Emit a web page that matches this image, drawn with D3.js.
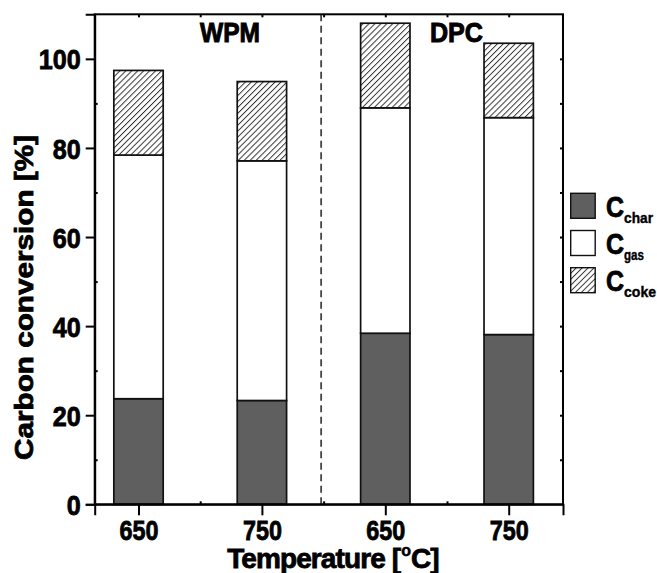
<!DOCTYPE html>
<html><head><meta charset="utf-8">
<script src="https://cdn.jsdelivr.net/npm/d3@7"></script>
<style>
body{margin:0;background:#fff;}
text{font-family:"Liberation Sans",Arial,sans-serif;font-weight:bold;fill:#000;}
</style></head>
<body><svg id="c" width="657" height="573"></svg>
<script>
const categories = ["650","750","650","750"];
const groups = ["WPM","DPC"];
const cChar = [23.7, 23.3, 38.4, 38.1];
const cGas  = [54.7, 53.8, 50.6, 48.7];
const cCoke = [19.0, 17.8, 19.0, 16.7];
const seriesNames = ["char","gas","coke"];
const yTicks = [0,20,40,60,80,100];

const svg = d3.select("#c");
const L=94.7, R=563, T=14.3, B=504.3;
const x = d3.scaleLinear().domain([0.645,4.44]).range([L,R]);
const y = d3.scaleLinear().domain([0,110]).range([B,T]);
const heavy = s => s.attr("stroke","#000").attr("stroke-width",0.8).style("font-family","'Liberation Sans',Arial,sans-serif").style("font-weight","bold").attr("fill","#000");

// hatch pattern
const defs = svg.append("defs");
const pw = 4.2;
const pat = defs.append("pattern").attr("id","hatch").attr("patternUnits","userSpaceOnUse")
  .attr("width",pw).attr("height",pw).attr("patternTransform","rotate(45)");
pat.append("rect").attr("width",pw).attr("height",pw).attr("fill","#fff");
pat.append("line").attr("x1",0.5).attr("y1",0).attr("x2",0.5).attr("y2",pw)
  .attr("stroke","#222").attr("stroke-width",0.9);

const table = categories.map((c,i)=>({idx:i+1, char:cChar[i], gas:cGas[i], coke:cCoke[i]}));
const stack = d3.stack().keys(seriesNames)(table);
const fills = {char:"#5f5f5f", gas:"#ffffff", coke:"url(#hatch)"};
const bw = 0.4;

stack.forEach(s=>{
  svg.append("g").selectAll("rect").data(s).join("rect")
    .attr("x",d=>x(d.data.idx-bw/2))
    .attr("width",d=>x(d.data.idx+bw/2)-x(d.data.idx-bw/2))
    .attr("y",d=>y(d[1]))
    .attr("height",d=>y(d[0])-y(d[1]))
    .attr("fill",fills[s.key])
    .attr("stroke","#111").attr("stroke-width",1.7);
});

// dashed divider
svg.append("line").attr("x1",x(2.48)).attr("x2",x(2.48)).attr("y1",T).attr("y2",B)
  .attr("stroke","#444").attr("stroke-width",1.8).attr("stroke-dasharray","7,4.5");

// axes
const gx = svg.append("g").attr("transform",`translate(0,${B})`)
  .call(d3.axisBottom(x).tickValues([1,2,3,4]).tickFormat((d,i)=>categories[i]).tickSize(11).tickPadding(5));
const gxm = svg.append("g").attr("transform",`translate(0,${B})`)
  .call(d3.axisBottom(x).tickValues([1.5,2.5,3.5]).tickFormat("").tickSize(-3));
const gt = svg.append("g").attr("transform",`translate(0,${T})`)
  .call(d3.axisTop(x).tickValues([1,1.5,2,2.5,3,3.5,4]).tickFormat("").tickSize(-3));
const gy = svg.append("g").attr("transform",`translate(${L},0)`)
  .call(d3.axisLeft(y).tickValues(yTicks).tickSize(9).tickPadding(5));
const gym = svg.append("g").attr("transform",`translate(${L},0)`)
  .call(d3.axisLeft(y).tickValues([10,30,50,70,90]).tickFormat("").tickSize(-3));
const gr = svg.append("g").attr("transform",`translate(${R},0)`)
  .call(d3.axisRight(y).tickValues([10,20,30,40,50,60,70,80,90,100]).tickFormat("").tickSize(-3));
[gx,gxm,gt,gy,gym,gr].forEach(g=>{
  g.select(".domain").attr("stroke","#000").attr("stroke-width",2);
  g.selectAll(".tick line").attr("stroke","#000").attr("stroke-width",2);
});
[gt,gr,gxm,gym].forEach(g=>g.select(".domain").attr("d",null));
svg.append("rect").attr("x",L).attr("y",T).attr("width",R-L).attr("height",B-T)
  .attr("fill","none").attr("stroke","#000").attr("stroke-width",2);

gx.selectAll(".tick text").call(heavy).style("font-size","27.5px")
  .attr("y",null).attr("dy",null).attr("y",35.5).attr("textLength",39).attr("lengthAdjust","spacingAndGlyphs");
gy.selectAll(".tick text").call(heavy).style("font-size","28px")
  .attr("dy","0.36em").attr("x",-14)
  .attr("textLength",d=>d>=100?42:(d>=10?28:14)).attr("lengthAdjust","spacingAndGlyphs");

// group labels
svg.selectAll(".grp").data(groups).join("text").attr("class","grp")
  .attr("x",(d,i)=>[200,430][i]).attr("y",41.5)
  .call(heavy).attr("stroke-width",1)
  .style("font-size","28.5px").attr("textLength",(d,i)=>[60,53][i]).attr("lengthAdjust","spacingAndGlyphs").text(d=>d);

// axis title x
const xt = svg.append("text").attr("x",333).attr("y",567.5).attr("text-anchor","middle").call(heavy)
  .style("font-size","28px").style("letter-spacing","-0.9px");
xt.append("tspan").text("Temperature [");
xt.append("tspan").text("o").style("font-size","16px").attr("dy",-12).attr("dx",1).attr("stroke-width",0.5);
xt.append("tspan").text("C]").attr("dy",12).attr("dx",1);

svg.append("text").attr("transform","translate(33,297.5) rotate(-90)").attr("text-anchor","middle")
  .call(heavy).style("font-size","26px").attr("textLength",325).attr("lengthAdjust","spacingAndGlyphs")
  .text("Carbon conversion [%]");

// legend
const subs = ["char","gas","coke"];
const subW = [29,20,32];
const lg = svg.append("g");
seriesNames.forEach((k,i)=>{
  const yy = 193.3 + i*37.2;
  lg.append("rect").attr("x",570.7).attr("y",yy).attr("width",24.5).attr("height",25)
    .attr("fill",fills[k]).attr("stroke","#111").attr("stroke-width",1.4);
  lg.append("text").attr("x",606).attr("y",yy+23.5).call(heavy)
    .style("font-size","29px").attr("textLength",18).attr("lengthAdjust","spacingAndGlyphs").text("C");
  lg.append("text").attr("x",624).attr("y",yy+29.5).call(heavy).attr("stroke-width",0.4)
    .style("font-size","15px").attr("textLength",subW[i]).attr("lengthAdjust","spacingAndGlyphs").text(subs[i]);
});
</script></body></html>
